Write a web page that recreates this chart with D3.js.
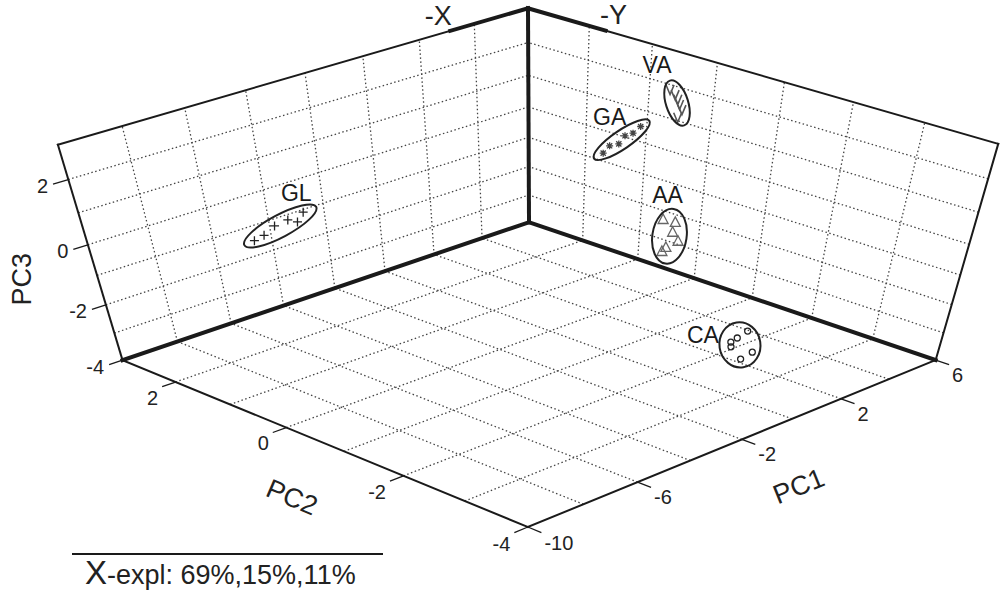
<!DOCTYPE html>
<html>
<head>
<meta charset="utf-8">
<script src="https://cdn.jsdelivr.net/npm/d3@7"></script>
<style>
  body { margin: 0; background: #fff; }
  svg { display: block; font-family: "Liberation Sans", Arial, Helvetica, sans-serif; }
  .grid { fill: none; stroke: #444; stroke-width: 1.3; stroke-dasharray: 1.5,2.5; }
  .edge { fill: none; stroke: #1a1a1a; stroke-width: 2; stroke-linecap: square; }
  .edge.thick { stroke-width: 4; }
  .tick { stroke: #1a1a1a; stroke-width: 1.3; }
  .ticklabel { font-size: 20px; fill: #222; }
  .axislabel { font-size: 27px; fill: #222; }
  .grouplabel { font-size: 23px; fill: #1a1a1a; }
  .ellipse { fill: none; stroke: #222; stroke-width: 2; }
</style>
</head>
<body>
<script>
//scores of the samples: [PC1, PC2, PC3]
var glScores = [[-6.6, 1.87, -0.12], [-7.0, 1.45, 0.46], [-6.9, 1.29, 0.83], [-6.7, 1.15, 1.05], [-7.1, 0.77, 1.36], [-6.8, 0.81, 1.54]];
var gaScores = [[3.1, 0.50, 0.77], [2.8, 0.28, 1.21], [3.0, 0.22, 1.25], [2.9, 0.09, 1.60], [3.2, 0.09, 1.60], [2.7, -0.22, 2.11]];
var vaScores = [[4.5, 0.09, 2.54], [4.3, -0.07, 2.53], [4.6, 0.00, 2.28], [4.4, -0.11, 2.24], [4.2, -0.23, 2.21], [4.5, -0.06, 1.81]];
var aaScores = [[0.9, -1.37, 0.50], [0.6, -1.67, 0.70], [1.0, -1.49, 0.15], [0.8, -1.66, 0.04], [0.7, -1.47, -0.39], [1.1, -1.37, -0.45]];
var caScores = [[0.3, -3.03, -1.75], [0.0, -3.00, -1.91], [0.4, -2.77, -2.37], [0.1, -2.89, -2.34], [0.2, -3.18, -2.33], [-0.1, -3.13, -2.51]];

var groupNames = ["GL", "GA", "VA", "AA", "CA"];
var explained = [69, 15, 11];

//axis limits, ticks and grid
var pc1Domain = [-10, 6], pc2Domain = [-4, 3], pc3Domain = [-4, 3];
var pc1Ticks = [-10, -6, -2, 2, 6];
var pc2Ticks = [-4, -2, 0, 2];
var pc3Ticks = [-4, -2, 0, 2];
var pc1Grid = [-8, -6, -4, -2, 0, 2, 4];
var pc2Grid = [-3, -2, -1, 0, 1, 2];
var pc3Grid = [-3, -2, -1, 0, 1, 2];

(function(){
    var width = 1000, height = 593;

    //normalized box coordinates
    var x = d3.scaleLinear().domain(pc1Domain).range([0, 1]);
    var y = d3.scaleLinear().domain(pc2Domain).range([0, 1]);
    var z = d3.scaleLinear().domain(pc3Domain).range([0, 1]);

    //perspective camera of the 3D view (homogeneous 3x4 matrix)
    var view = [
        [504.578, -392.317, -80.150, 527.876],
        [-129.699, -128.412, -260.084, 526.994],
        [0.10344, 0.10662, -0.14946, 1]
    ];

    function projectN(u, v, w){
        var r = view.map(function(m){ return m[0]*u + m[1]*v + m[2]*w + m[3]; });
        return [r[0] / r[2], r[1] / r[2]];
    }
    function project(p1, p2, p3){
        return projectN(x(p1), y(p2), z(p3));
    }

    var line = d3.line();

    var svg = d3.select("body").append("svg")
        .attr("width", width)
        .attr("height", height);

    svg.append("rect").attr("width", width).attr("height", height).attr("fill", "#fff");

    var x0 = pc1Domain[0], x1 = pc1Domain[1];
    var y0 = pc2Domain[0], y1 = pc2Domain[1];
    var z0 = pc3Domain[0], z1 = pc3Domain[1];

    //dotted grid on floor and back walls
    var gridSegs = [];
    pc1Grid.forEach(function(v){
        gridSegs.push([project(v, y0, z0), project(v, y1, z0)]); //floor
        gridSegs.push([project(v, y1, z0), project(v, y1, z1)]); //left wall
    });
    pc2Grid.forEach(function(v){
        gridSegs.push([project(x0, v, z0), project(x1, v, z0)]); //floor
        gridSegs.push([project(x1, v, z0), project(x1, v, z1)]); //right wall
    });
    pc3Grid.forEach(function(v){
        gridSegs.push([project(x0, y1, v), project(x1, y1, v)]); //left wall
        gridSegs.push([project(x1, y0, v), project(x1, y1, v)]); //right wall
    });
    svg.append("g").selectAll("path")
        .data(gridSegs)
        .enter()
        .append("path")
        .attr("class", "grid")
        .attr("d", line);

    //box frame
    var thickPart = 0.18;
    var xThick = x.invert(1 - thickPart), yThick = y.invert(1 - thickPart);
    var thinEdges = [
        [project(x0, y1, z0), project(x0, y1, z1)],
        [project(x1, y0, z0), project(x1, y0, z1)],
        [project(x0, y1, z1), project(x1, y1, z1)],
        [project(x1, y0, z1), project(x1, y1, z1)],
        [project(x0, y1, z0), project(x0, y0, z0)],
        [project(x0, y0, z0), project(x1, y0, z0)]
    ];
    var thickEdges = [
        [project(x0, y1, z0), project(x1, y1, z0)],
        [project(x1, y0, z0), project(x1, y1, z0)],
        [project(x1, y1, z0), project(x1, y1, z1)],
        [project(xThick, y1, z1), project(x1, y1, z1)],
        [project(x1, yThick, z1), project(x1, y1, z1)]
    ];
    svg.append("g").selectAll("path")
        .data(thinEdges).enter().append("path")
        .attr("class", "edge").attr("d", line);
    svg.append("g").selectAll("path")
        .data(thickEdges).enter().append("path")
        .attr("class", "edge thick").attr("d", line);

    //ticks
    var tickLen = 0.03;
    var ticks = svg.append("g");
    pc1Ticks.forEach(function(t){
        var a = project(t, y0, z0), b = projectN(x(t), -tickLen, 0);
        ticks.append("line").attr("class", "tick")
            .attr("x1", a[0]).attr("y1", a[1]).attr("x2", b[0]).attr("y2", b[1]);
        ticks.append("text").attr("class", "ticklabel")
            .attr("x", b[0] + 3).attr("y", b[1] + 10)
            .attr("dominant-baseline", "central")
            .text(t);
    });
    pc2Ticks.forEach(function(t){
        var a = project(x0, t, z0), b = projectN(-tickLen, y(t), 0);
        ticks.append("line").attr("class", "tick")
            .attr("x1", a[0]).attr("y1", a[1]).attr("x2", b[0]).attr("y2", b[1]);
        ticks.append("text").attr("class", "ticklabel")
            .attr("x", b[0] - 4).attr("y", b[1] + 11)
            .attr("text-anchor", "end")
            .attr("dominant-baseline", "central")
            .text(t);
    });
    pc3Ticks.forEach(function(t){
        var a = project(x0, y1, t), b = projectN(-tickLen, 1, z(t));
        ticks.append("line").attr("class", "tick")
            .attr("x1", a[0]).attr("y1", a[1]).attr("x2", b[0]).attr("y2", b[1]);
        ticks.append("text").attr("class", "ticklabel")
            .attr("x", b[0] - 5).attr("y", b[1] + 2)
            .attr("text-anchor", "end")
            .attr("dominant-baseline", "central")
            .text(t);
    });

    //axis titles
    var m1 = project(-2, y0, z0), m2 = project(x0, -0.5, z0), m3 = project(x0, y1, -0.5);
    var axisTitles = [
        {text: "PC1", pos: [m1[0] + 57, m1[1] + 47], rot: -22},
        {text: "PC2", pos: [m2[0] - 23, m2[1] + 58], rot: 23},
        {text: "PC3", pos: [m3[0] - 71, m3[1] + 19], rot: -90}
    ];
    svg.append("g").selectAll("text")
        .data(axisTitles).enter().append("text")
        .attr("class", "axislabel")
        .attr("text-anchor", "middle")
        .attr("dominant-baseline", "central")
        .attr("transform", function(d){ return "translate(" + d.pos + ") rotate(" + d.rot + ")"; })
        .text(function(d){ return d.text; });

    //-X / -Y labels by the thick top edges
    var tx = project(xThick, y1, z1), ty = project(x1, yThick, z1);
    svg.append("text").attr("class", "axislabel")
        .attr("x", tx[0] - 12).attr("y", tx[1] - 15)
        .attr("text-anchor", "middle").attr("dominant-baseline", "central")
        .text("-X");
    svg.append("text").attr("class", "axislabel")
        .attr("x", ty[0] + 8).attr("y", ty[1] - 16)
        .attr("text-anchor", "middle").attr("dominant-baseline", "central")
        .text("-Y");

    //markers
    var markerPaths = {
        GL: "M-4.5,0H4.5M0,-4.5V4.5",
        GA: "M-3.5,0H3.5M0,-3.5V3.5M-2.6,-2.6L2.6,2.6M-2.6,2.6L2.6,-2.6",
        VA: "M-4,-5L0,4.5L4,-5",
        AA: "M0,-6L5,3.5H-5Z",
        CA: "M3,0A3,3 0 1,1 -3,0A3,3 0 1,1 3,0Z"
    };
    var markerColors = {GL: "#222", GA: "#444", VA: "#555", AA: "#666", CA: "#222"};
    var labelOffsets = {GL: [16, -33], GA: [-12, -23], VA: [-20, -38], AA: [-2, -41], CA: [-37, -10]};
    var allScores = [glScores, gaScores, vaScores, aaScores, caScores];

    groupNames.forEach(function(name, gi){
        var pts = allScores[gi].map(function(s){ return project(s[0], s[1], s[2]); });
        var g = svg.append("g");

        g.selectAll("path.marker")
            .data(pts).enter().append("path")
            .attr("class", "marker")
            .attr("d", markerPaths[name])
            .attr("transform", function(p){ return "translate(" + p + ")"; })
            .attr("fill", "none")
            .attr("stroke", markerColors[name])
            .attr("stroke-width", name === "VA" ? 1.6 : 1.3);

        //confidence ellipse from the spread of the projected points
        var mx = d3.mean(pts, function(p){ return p[0]; }),
            my = d3.mean(pts, function(p){ return p[1]; });
        var sxx = d3.mean(pts, function(p){ return (p[0]-mx)*(p[0]-mx); }),
            syy = d3.mean(pts, function(p){ return (p[1]-my)*(p[1]-my); }),
            sxy = d3.mean(pts, function(p){ return (p[0]-mx)*(p[1]-my); });
        var tr = (sxx + syy) / 2, dd = Math.sqrt((sxx - syy)*(sxx - syy)/4 + sxy*sxy);
        var l1 = tr + dd, l2 = Math.max(tr - dd, 0);
        var ang = 0.5 * Math.atan2(2*sxy, sxx - syy) * 180 / Math.PI;
        var k = 1.7, pad = 7;
        g.append("ellipse")
            .attr("class", "ellipse")
            .attr("rx", k*Math.sqrt(l1) + pad)
            .attr("ry", k*Math.sqrt(l2) + pad)
            .attr("transform", "translate(" + mx + "," + my + ") rotate(" + ang + ")");

        g.append("text")
            .attr("class", "grouplabel")
            .attr("x", mx + labelOffsets[name][0])
            .attr("y", my + labelOffsets[name][1])
            .attr("text-anchor", "middle")
            .attr("dominant-baseline", "central")
            .text(name);
    });

    //explained variance footer
    svg.append("line")
        .attr("x1", 72).attr("x2", 383)
        .attr("y1", 554).attr("y2", 554)
        .attr("stroke", "#1a1a1a").attr("stroke-width", 2);
    var foot = svg.append("text").attr("x", 85).attr("y", 584).attr("fill", "#222");
    foot.append("tspan").attr("font-size", 33).text("X");
    foot.append("tspan").attr("font-size", 27)
        .text("-expl: " + explained.map(function(d){ return d + "%"; }).join(","));
})();
</script>
</body>
</html>
